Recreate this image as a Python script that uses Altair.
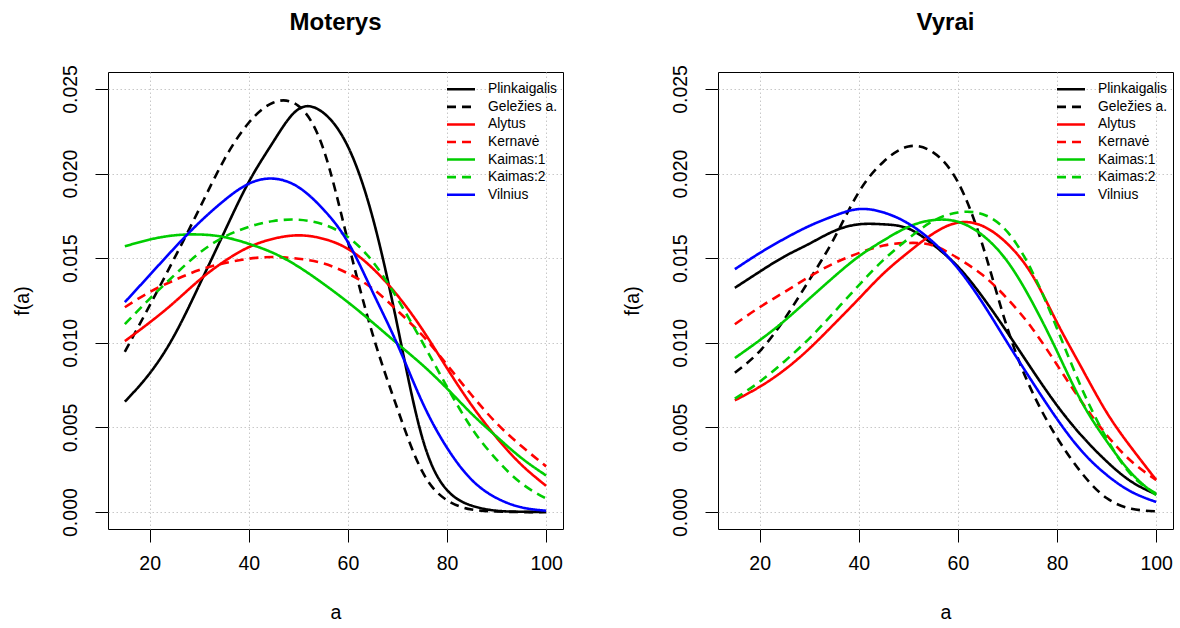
import altair as alt
import pandas as pd

# ---- data (f(a) in units of 0.001) ----
AGES = [15, 20, 25, 30, 35, 40, 45, 50, 55, 60, 65, 70, 75, 80, 85, 90, 95, 100]
SERIES = ["Plinkaigalis", "Geležies a.", "Alytus", "Kernavė", "Kaimas:1", "Kaimas:2", "Vilnius"]
LEGEND_RANK = [0, 1, 2, 3, 4, 5, 6]
COLORS = ["#000000", "#000000", "#FF0000", "#FF0000", "#00CD00", "#00CD00", "#0000FF"]
DASHES = [[1, 0], [9, 6], [1, 0], [9, 6], [1, 0], [9, 6], [1, 0]]
X_TICKS = [20, 40, 60, 80, 100]
Y_TICKS = [0, 5, 10, 15, 20, 25]

moterys_plinkaigalis = [6.52, 8.19, 10.45, 13.4, 16.5, 19.5, 21.9, 23.8, 23.6, 21.6, 17.4, 11.0, 4.4, 1.3, 0.38, 0.08, 0.02, 0.0]
moterys_gelezies = [9.47, 12.2, 15.0, 17.9, 20.8, 23.0, 24.2, 24.0, 21.5, 16.0, 10.5, 6.1, 2.4, 0.7, 0.15, 0.03, 0.0, 0.0]
moterys_alytus = [10.1, 11.2, 12.4, 13.7, 14.8, 15.65, 16.15, 16.35, 16.15, 15.55, 14.4, 12.8, 10.8, 8.5, 6.3, 4.4, 2.8, 1.55]
moterys_kernave = [12.1, 13.0, 13.7, 14.3, 14.7, 14.97, 15.07, 14.97, 14.7, 14.1, 13.2, 11.9, 10.45, 8.7, 6.9, 5.25, 3.9, 2.7]
moterys_kaimas1 = [15.7, 16.1, 16.35, 16.4, 16.25, 15.85, 15.3, 14.5, 13.5, 12.4, 11.2, 9.95, 8.7, 7.3, 5.8, 4.46, 3.2, 2.16]
moterys_kaimas2 = [11.1, 12.6, 14.0, 15.3, 16.25, 16.85, 17.2, 17.27, 17.0, 16.25, 14.8, 12.6, 10.05, 7.4, 4.95, 3.1, 1.7, 0.8]
moterys_vilnius = [12.4, 14.0, 15.6, 17.1, 18.4, 19.4, 19.7, 19.2, 17.9, 15.95, 13.0, 9.9, 6.5, 3.8, 1.9, 0.83, 0.28, 0.08]

vyrai_plinkaigalis = [13.25, 14.2, 15.1, 15.85, 16.6, 17.0, 17.0, 16.75, 15.8, 14.5, 12.7, 10.6, 8.4, 6.3, 4.5, 3.0, 1.8, 1.05]
vyrai_gelezies = [8.23, 9.5, 11.4, 13.7, 16.15, 18.9, 20.7, 21.6, 21.25, 19.5, 15.75, 10.85, 7.1, 4.4, 2.3, 0.83, 0.2, 0.04]
vyrai_alytus = [6.6, 7.4, 8.4, 9.65, 11.1, 12.6, 14.1, 15.35, 16.45, 17.1, 16.9, 15.85, 14.0, 11.2, 8.5, 5.9, 3.8, 1.9]
vyrai_kernave = [11.1, 12.1, 13.0, 13.9, 14.7, 15.3, 15.75, 15.9, 15.75, 15.0, 14.0, 12.6, 10.85, 8.7, 6.5, 4.56, 3.0, 1.9]
vyrai_kaimas1 = [9.1, 10.15, 11.3, 12.6, 13.9, 15.1, 16.05, 16.85, 17.25, 17.15, 16.35, 14.8, 12.4, 9.5, 6.5, 4.2, 2.3, 1.0]
vyrai_kaimas2 = [6.7, 7.7, 8.9, 10.25, 11.8, 13.4, 14.9, 16.15, 17.2, 17.7, 17.6, 16.55, 14.2, 10.85, 7.3, 4.36, 2.2, 1.1]
vyrai_vilnius = [14.35, 15.3, 16.15, 16.9, 17.5, 17.9, 17.7, 17.05, 15.95, 14.4, 12.35, 10.0, 7.7, 5.5, 3.6, 2.2, 1.2, 0.6]

MOTERYS = [moterys_plinkaigalis, moterys_gelezies, moterys_alytus, moterys_kernave,
           moterys_kaimas1, moterys_kaimas2, moterys_vilnius]
VYRAI = [vyrai_plinkaigalis, vyrai_gelezies, vyrai_alytus, vyrai_kernave,
         vyrai_kaimas1, vyrai_kaimas2, vyrai_vilnius]

FONT = "Liberation Sans"
W, H = 455, 457

color_scale = alt.Scale(domain=SERIES, range=COLORS)
dash_scale = alt.Scale(domain=SERIES, range=DASHES)
legend_df = pd.DataFrame({"series": SERIES, "rank": LEGEND_RANK})


def make_df(series_values):
    rows = []
    for name, vals in zip(SERIES, series_values):
        for a, v in zip(AGES, vals):
            rows.append({"a": a, "f": v, "series": name})
    return pd.DataFrame(rows)


def panel(title, series_values):
    df = make_df(series_values)
    lines = alt.Chart(df).mark_line(
        strokeWidth=2.6, interpolate="natural", clip=True
    ).encode(
        x=alt.X("a:Q",
                scale=alt.Scale(domain=[11.6, 103.4], nice=False, zero=False),
                axis=alt.Axis(values=X_TICKS, title="a", format="d",
                              titleX=W / 2, titleY=89, titleAlign="center",
                              titleBaseline="alphabetic",
                              labelPadding=12)),
        y=alt.Y("f:Q",
                scale=alt.Scale(domain=[-1, 26], nice=False, zero=False),
                axis=alt.Axis(values=Y_TICKS, title="f(a)",
                              labelExpr="format(datum.value / 1000, '.3f')",
                              labelAngle=270, labelAlign="center",
                              labelBaseline="alphabetic", labelPadding=19,
                              titleAngle=270, titleAlign="center",
                              titleBaseline="alphabetic",
                              titleX=-79.5, titleY=H / 2)),
        color=alt.Color("series:N", scale=color_scale, legend=None),
        strokeDash=alt.StrokeDash("series:N", scale=dash_scale, legend=None),
    )

    # legend drawn inside the plot, top-right (R legend(..., bty="n"))
    row_y = alt.Y("rank:O", scale=alt.Scale(type="point", domain=LEGEND_RANK,
                                             range=[17.3, 122.7], padding=0),
                  axis=None)
    leg_lines = alt.Chart(legend_df).mark_rule(strokeWidth=2.6).encode(
        x=alt.value(339), x2=alt.value(367), y=row_y,
        color=alt.Color("series:N", scale=color_scale, legend=None),
        strokeDash=alt.StrokeDash("series:N", scale=dash_scale, legend=None),
    )
    leg_text = alt.Chart(legend_df).mark_text(
        align="left", baseline="middle", font=FONT, fontSize=13.8, color="#000000"
    ).encode(
        x=alt.value(380), y=row_y, text="series:N",
    )

    return alt.layer(lines, leg_lines, leg_text).resolve_scale(
        y="independent"
    ).properties(
        width=W, height=H,
        title=alt.TitleParams(title, font=FONT, fontSize=24, fontWeight="bold",
                              color="#000000", anchor="middle", frame="group",
                              baseline="alphabetic", offset=11),
    )


chart = alt.hconcat(
    panel("Moterys", MOTERYS), panel("Vyrai", VYRAI), spacing=58
).resolve_scale(
    color="independent", strokeDash="independent"
).properties(
    padding={"left": 12, "top": 10, "right": 0, "bottom": 0},
    background="white",
).configure_view(
    stroke="#000000", strokeWidth=1
).configure_axis(
    domain=False, ticks=True, tickSize=13, tickColor="#000000", tickWidth=1,
    grid=True, gridColor="#C8C8C8", gridDash=[1.5, 2.5], gridWidth=1,
    labelFont=FONT, labelFontSize=19.5, labelColor="#000000",
    titleFont=FONT, titleFontSize=19.5, titleFontWeight="normal", titleColor="#000000",
)

chart.save("out.html", embed_options={"renderer": "svg", "actions": False})
